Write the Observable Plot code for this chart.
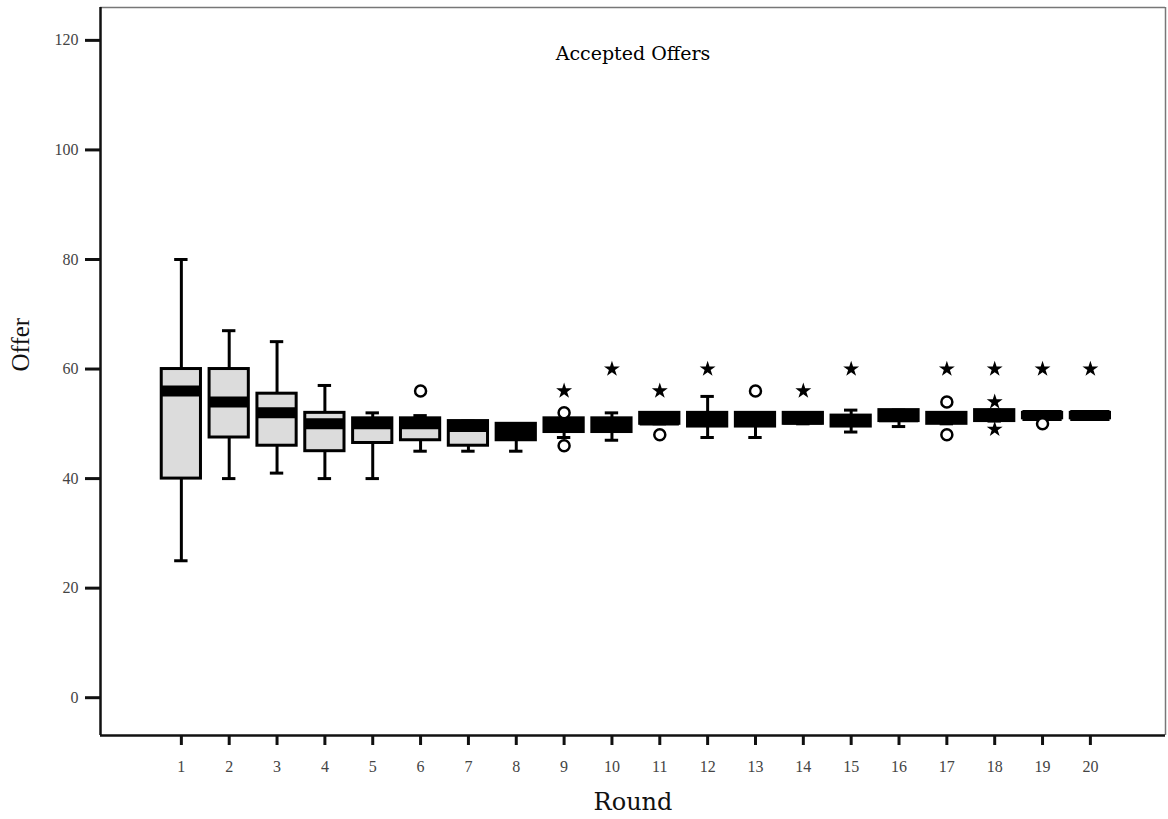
<!DOCTYPE html>
<html><head><meta charset="utf-8">
<script src="https://cdn.jsdelivr.net/npm/d3@7"></script>
<script src="https://cdn.jsdelivr.net/npm/@observablehq/plot@0.6"></script>
<style>body{margin:0;background:#fff}</style>
</head><body><div id="chart"></div>
<script>
// ---- data ----
const title = "Accepted Offers";
const xLabel = "Round";
const yLabel = "Offer";
const rounds = [1,2,3,4,5,6,7,8,9,10,11,12,13,14,15,16,17,18,19,20];
const lowWhisker  = [25,40,41,40,40,45,45,45,47.5,47,50,47.5,47.5,50,48.5,49.5,50,50.5,51,51];
const q1          = [40,47.5,46,45,46.5,47,46,47,48.5,48.5,50,49.5,49.5,50,49.5,50.5,50,50.5,51,51];
const median      = [56,54,52,50,50,50,49.5,48.6,49.7,49.8,50.7,50.7,50.7,50.9,50.5,51.3,51.3,51.5,51.5,51.5];
const q3          = [60,60,55.5,52,51,51,50.5,50,51,51,52,52,52,52,51.5,52.5,52,52.5,52,52];
const highWhisker = [80,67,65,57,52,51.5,50.5,50,51,52,52,55,52,52,52.5,52.5,52,52.5,52,52];
const circleRounds = [6,9,9,11,13,17,17,19];
const circleValues = [56,52,46,48,56,54,48,50];
const starRounds = [9,10,11,12,14,15,17,18,18,18,19,20];
const starValues = [56,60,56,60,56,60,60,60,54,49,60,60];
const yTicks = [0,20,40,60,80,100,120];
const xDomain = [-0.69, 21.57];
const yDomain = [-6.9, 126];

const boxes = rounds.map((r,i)=>({round:r, low:lowWhisker[i], q1:q1[i], median:median[i], q3:q3[i], high:highWhisker[i]}));
const circles = circleRounds.map((r,i)=>({round:r, value:circleValues[i]}));
const stars = starRounds.map((r,i)=>({round:r, value:starValues[i]}));
const halfBox = 0.41, halfCap = 0.14;
// very narrow boxes are swallowed by the thick median band (as in the SPSS print)
const boxFill = d => (d.q3 - d.q1 <= 3.2 ? "#000" : "#dcdcdc");

const chart = Plot.plot({
  width: 1168, height: 819,
  marginLeft: 100, marginRight: 3, marginTop: 7, marginBottom: 84,
  x: {type: "linear", domain: xDomain},
  y: {type: "linear", domain: yDomain},
  style: {fontFamily: "Liberation Serif", background: "#fff"},
  marks: [
    // frame
    Plot.ruleY([yDomain[1]], {stroke: "#777", strokeWidth: 1.5}),
    Plot.ruleX([xDomain[1]], {stroke: "#777", strokeWidth: 1.5}),
    Plot.ruleY([yDomain[0]], {stroke: "#111", strokeWidth: 2.5}),
    Plot.ruleX([xDomain[0]], {stroke: "#111", strokeWidth: 2.5}),
    Plot.axisX({ticks: rounds, tickFormat: d => String(d), tickSize: 10, tickPadding: 15, strokeWidth: 3, stroke: "#111", fill: "#444", fontSize: 16, label: null}),
    Plot.axisY({ticks: yTicks, tickFormat: d => String(d), tickSize: 15, tickPadding: 7, strokeWidth: 3, stroke: "#111", fill: "#444", fontSize: 16, label: null}),
    // whiskers
    Plot.ruleX(boxes, {x: "round", y1: "low", y2: "q1", stroke: "#000", strokeWidth: 3}),
    Plot.ruleX(boxes, {x: "round", y1: "q3", y2: "high", stroke: "#000", strokeWidth: 3}),
    Plot.ruleY(boxes, {y: "low", x1: d => d.round - halfCap, x2: d => d.round + halfCap, stroke: "#000", strokeWidth: 3}),
    Plot.ruleY(boxes, {y: "high", x1: d => d.round - halfCap, x2: d => d.round + halfCap, stroke: "#000", strokeWidth: 3}),
    // boxes
    Plot.rect(boxes, {x1: d => d.round - halfBox, x2: d => d.round + halfBox, y1: "q1", y2: "q3", fill: boxFill, stroke: "#000", strokeWidth: 3}),
    Plot.ruleY(boxes, {y: "median", x1: d => d.round - halfBox, x2: d => d.round + halfBox, stroke: "#000", strokeWidth: 11}),
    // outliers
    Plot.dot(circles, {x: "round", y: "value", r: 5.5, fill: "#fff", stroke: "#000", strokeWidth: 2.5}),
    Plot.dot(stars, {x: "round", y: "value", symbol: "star", r: 5, fill: "#000", stroke: "none"}),
    // texts
    Plot.text([title], {frameAnchor: "top", dy: 46, lineAnchor: "middle", fontFamily: "DejaVu Serif", fontSize: 19, fill: "#000"}),
    Plot.text([xLabel], {frameAnchor: "bottom", dy: 67, lineAnchor: "middle", fontFamily: "DejaVu Serif", fontSize: 24, fill: "#111"}),
    Plot.text([yLabel], {frameAnchor: "left", dx: -80, rotate: -90, lineAnchor: "middle", fontFamily: "Liberation Serif", fontSize: 25, fill: "#111"})
  ]
});
document.getElementById("chart").appendChild(chart);
</script>
</body></html>
